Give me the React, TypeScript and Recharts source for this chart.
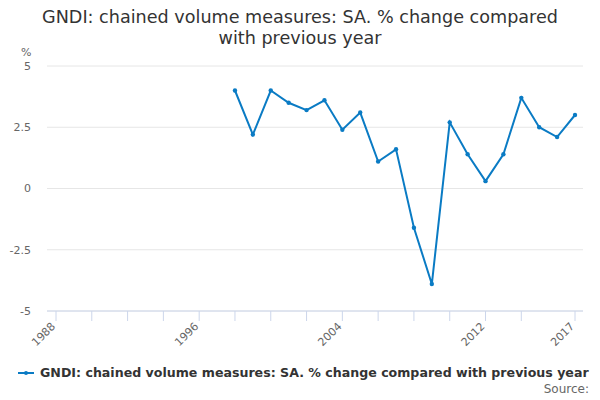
import { CartesianGrid, Line, LineChart, XAxis, YAxis } from "recharts";

const years = [
  1998, 1999, 2000, 2001, 2002, 2003, 2004, 2005, 2006, 2007, 2008, 2009,
  2010, 2011, 2012, 2013, 2014, 2015, 2016, 2017,
];
const gndi = [
  4.0, 2.2, 4.0, 3.5, 3.2, 3.6, 2.4, 3.1, 1.1, 1.6, -1.6, -3.9, 2.7, 1.4, 0.3,
  1.4, 3.7, 2.5, 2.1, 3.0,
];
const xTicks = [
  1988, 1990, 1992, 1994, 1996, 1998, 2000, 2002, 2004, 2006, 2008, 2010,
  2012, 2014, 2017,
];
const xLabels = [1988, 1996, 2004, 2012, 2017];
const yTicks = [-5, -2.5, 0, 2.5, 5];

const seriesName =
  "GNDI: chained volume measures: SA. % change compared with previous year";
const titleLines = [
  "GNDI: chained volume measures: SA. % change compared",
  "with previous year",
];

const data = years.map((year, i) => ({ year, value: gndi[i] }));

const FONT = '"DejaVu Sans", sans-serif';
const LINE = "#0a7bc4";

function YearTick(props: any) {
  const { x, y, payload } = props;
  if (!xLabels.includes(payload.value)) return null;
  return (
    <text
      x={x}
      y={y + 4}
      textAnchor="end"
      fontSize={11}
      fill="#666666"
      fontFamily={FONT}
      transform={`rotate(-45 ${x} ${y + 4})`}
    >
      {payload.value}
    </text>
  );
}

export default function App() {
  return (
    <div
      style={{
        position: "absolute",
        left: 0,
        top: 0,
        width: 600,
        height: 400,
        fontFamily: FONT,
        background: "#fff",
      }}
    >
      <div
        style={{
          position: "absolute",
          left: 0,
          top: 7,
          width: 600,
          textAlign: "center",
          fontSize: 17.6,
          lineHeight: "21px",
          color: "#333333",
          whiteSpace: "nowrap",
        }}
      >
        {titleLines.map((t) => (
          <div key={t}>{t}</div>
        ))}
      </div>
      <div
        style={{
          position: "absolute",
          left: 21,
          top: 46,
          fontSize: 11,
          lineHeight: "13px",
          color: "#666666",
        }}
      >
        %
      </div>
      <LineChart
        width={600}
        height={400}
        data={data}
        margin={{ top: 66, right: 17, left: 0, bottom: 49 }}
        style={{ fontFamily: FONT }}
      >
        <CartesianGrid vertical={false} stroke="#e6e6e6" />
        <XAxis
          dataKey="year"
          type="number"
          domain={[1988, 2017]}
          ticks={xTicks}
          interval={0}
          padding={{ left: 9, right: 8 }}
          height={40}
          stroke="#ccd6eb"
          tickSize={10}
          tick={<YearTick />}
        />
        <YAxis
          domain={[-5, 5]}
          ticks={yTicks}
          width={47}
          axisLine={false}
          tickLine={false}
          tickMargin={10}
          tick={{ fontSize: 11, fill: "#666666", fontFamily: FONT }}
        />
        <Line
          dataKey="value"
          stroke={LINE}
          strokeWidth={2}
          dot={{ r: 2.2, fill: LINE, stroke: LINE, strokeWidth: 0 }}
          isAnimationActive={false}
          type="linear"
        />
      </LineChart>
      <div
        style={{
          position: "absolute",
          left: 18,
          top: 365,
          display: "flex",
          alignItems: "center",
          fontSize: 12.6,
          fontWeight: "bold",
          color: "#333333",
          whiteSpace: "nowrap",
        }}
      >
        <svg width={18} height={10} style={{ marginRight: 4 }}>
          <line x1={0} y1={5} x2={16} y2={5} stroke={LINE} strokeWidth={2} />
          <circle cx={8} cy={5} r={2} fill={LINE} />
        </svg>
        {seriesName}
      </div>
      <div
        style={{
          position: "absolute",
          right: 11,
          top: 382,
          fontSize: 12,
          color: "#666666",
        }}
      >
        Source:
      </div>
    </div>
  );
}
